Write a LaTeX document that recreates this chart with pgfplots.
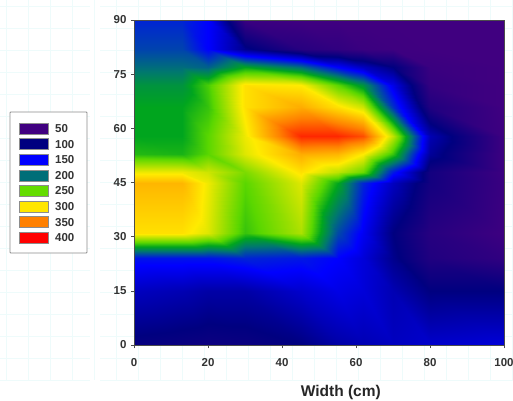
\documentclass[border=0pt]{standalone}
\usepackage{pgfplots}
\pgfplotsset{compat=1.18}
\usepackage{fontspec}
\setmainfont{Liberation Sans}
\definecolor{bgrid}{RGB}{238,251,251}
\begin{document}
\begin{tikzpicture}
% faint background grid
\foreach \gx in {6,28,50,72,94,116,138,160,182,204,226,248,270,292,314,336,358,380,402,424,446,468,490,512}
  \draw[bgrid,line width=.6pt] (\gx pt,20pt) -- (\gx pt,400pt);
\foreach \gy in {20,42,64,86,108,130,152,174,196,218,240,262,284,306,328,350,372,394}
  \draw[bgrid,line width=.6pt] (0pt,\gy pt) -- (90pt,\gy pt) (100pt,\gy pt) -- (513pt,\gy pt);
\begin{axis}[
  at={(134pt,55pt)},anchor=south west,scale only axis,
  width=370pt,height=325pt,
  view={0}{90},
  xmin=0,xmax=100,ymin=0,ymax=90,
  xtick={0,20,40,60,80,100},ytick={0,15,30,45,60,75,90},
  tick align=outside,tick pos=left,
  major tick length=3pt,
  axis line style={draw=black!70,line width=.6pt},
  tick style={draw=black!70,line width=.6pt},
  axis on top,
  ticklabel style={font=\fontsize{11.5}{13}\selectfont\bfseries,text=black!80},
  /pgf/number format/assume math mode=true,
  xticklabel style={yshift=-7pt},
  yticklabel style={xshift=-1pt},
  xlabel={Width (cm)},
  xlabel style={font=\fontsize{15.5}{17}\selectfont\bfseries,text=black!85,at={(axis description cs:0.559,0)},anchor=north,yshift=-37pt},
  point meta min=50,point meta max=400,
  colormap={heat}{rgb255(50)=(64,0,128) rgb255(100)=(0,0,128) rgb255(150)=(0,0,255) rgb255(200)=(0,120,110) rgb255(225)=(0,165,30) rgb255(250)=(90,215,0) rgb255(300)=(255,235,0) rgb255(350)=(255,130,0) rgb255(400)=(255,0,0)},
]
\addplot3[surf,shader=interp,mesh/cols=10] table[row sep=\\] {
x y z\\
0 0 95\\ 13 0 92\\ 20 0 90\\ 30 0 92\\ 45 0 100\\ 55 0 115\\ 62 0 120\\ 70 0 125\\ 80 0 130\\ 100 0 135\\
0 15 125\\ 13 15 120\\ 20 15 115\\ 30 15 115\\ 45 15 130\\ 55 15 140\\ 62 15 135\\ 70 15 120\\ 80 15 100\\ 100 15 100\\
0 24 158\\ 13 24 158\\ 20 24 158\\ 30 24 165\\ 45 24 160\\ 55 24 150\\ 62 24 135\\ 70 24 105\\ 80 24 75\\ 100 24 62\\
0 31 305\\ 13 31 305\\ 20 31 290\\ 30 31 240\\ 45 31 275\\ 55 31 180\\ 62 31 145\\ 70 31 100\\ 80 31 70\\ 100 31 52\\
0 45 325\\ 13 45 325\\ 20 45 295\\ 30 45 250\\ 45 45 290\\ 55 45 225\\ 62 45 165\\ 70 45 125\\ 80 45 85\\ 100 45 55\\
0 48 295\\ 13 48 295\\ 20 48 285\\ 30 48 260\\ 45 48 305\\ 55 48 280\\ 62 48 255\\ 70 48 160\\ 80 48 85\\ 100 48 53\\
0 53 235\\ 13 53 232\\ 20 53 250\\ 30 53 290\\ 45 53 330\\ 55 53 325\\ 62 53 300\\ 70 53 240\\ 80 53 110\\ 100 53 52\\
0 58 225\\ 13 58 225\\ 20 58 250\\ 30 58 295\\ 45 58 385\\ 55 58 385\\ 62 58 370\\ 70 58 280\\ 80 58 120\\ 100 58 52\\
0 66 225\\ 13 66 225\\ 20 66 240\\ 30 66 305\\ 45 66 330\\ 55 66 305\\ 62 66 285\\ 70 66 170\\ 80 66 75\\ 100 66 50\\
0 72 215\\ 13 72 215\\ 20 72 245\\ 30 72 305\\ 45 72 300\\ 55 72 250\\ 62 72 215\\ 70 72 140\\ 80 72 60\\ 100 72 50\\
0 77 195\\ 13 77 195\\ 20 77 190\\ 30 77 225\\ 45 77 195\\ 55 77 150\\ 62 77 125\\ 70 77 100\\ 80 77 55\\ 100 77 50\\
0 82 178\\ 13 82 178\\ 20 82 150\\ 30 82 105\\ 45 82 70\\ 55 82 62\\ 62 82 55\\ 70 82 52\\ 80 82 50\\ 100 82 50\\
0 90 165\\ 13 90 165\\ 20 90 150\\ 30 90 55\\ 45 90 50\\ 55 90 50\\ 62 90 50\\ 70 90 50\\ 80 90 50\\ 100 90 50\\
};
\end{axis}
% legend
\draw[black!45,line width=.9pt,rounded corners=.8pt,fill=white] (10pt,147pt) rectangle (87pt,288pt);
\foreach \c/\lab/\i in {{64,0,128}/50/0,{0,0,128}/100/1,{0,0,255}/150/2,{0,110,120}/200/3,{100,220,0}/250/4,{255,230,0}/300/5,{255,128,0}/350/6,{255,0,0}/400/7}{
  \definecolor{sw}{RGB}{\c}
  \draw[black!45,line width=.5pt,fill=sw] (19pt,{(266-15.6*\i)*1pt}) rectangle (48pt,{(277-15.6*\i)*1pt});
  \node[anchor=west,font=\fontsize{11.5}{13}\selectfont\bfseries,text=black!80,inner sep=0pt] at (55pt,{(271.5-15.6*\i)*1pt}) {\lab};
}
\pgfresetboundingbox
\path (0pt,0pt) rectangle (513pt,400pt);
\end{tikzpicture}
\end{document}
